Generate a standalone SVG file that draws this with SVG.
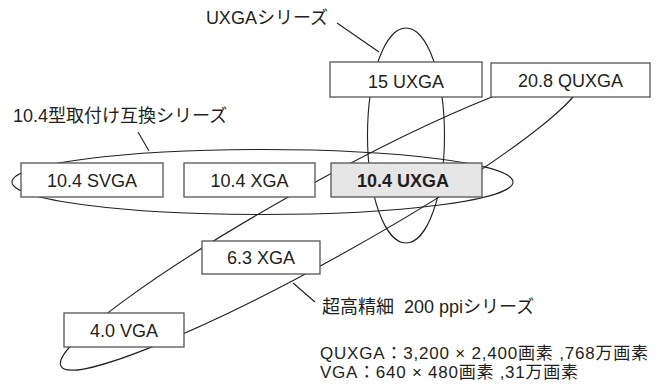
<svg xmlns="http://www.w3.org/2000/svg" width="666" height="391" viewBox="0 0 666 391">
<style>
.ln{fill:none;stroke:#231f20;stroke-width:1.1}
.box{fill:#ffffff;stroke:#555555;stroke-width:1.3}
.hl{fill:#e6e6e6}
.t{font-family:"Liberation Sans","Noto Sans CJK JP",Arial,sans-serif;font-size:18px;fill:#231f20;text-anchor:middle}
.b{font-weight:bold}
.lab{font-family:"Liberation Sans","Noto Sans CJK JP",Arial,sans-serif;font-size:18px;fill:#231f20}
.note{font-family:"Liberation Sans","Noto Sans CJK JP",Arial,sans-serif;font-size:17px;fill:#231f20}
</style>
<rect width="666" height="391" fill="#ffffff"/>
<g id="connectors">
<ellipse class="ln" cx="406" cy="135.5" rx="38.5" ry="107.5"/>
<ellipse class="ln" cx="262.5" cy="182" rx="250.5" ry="32.5"/>
<ellipse class="ln" cx="321" cy="222.3" rx="297.2" ry="38" transform="rotate(-28.98 321 222.3)"/>
<line class="ln" x1="337" y1="23" x2="379" y2="52"/>
<line class="ln" x1="138" y1="132" x2="149" y2="151"/>
<line class="ln" x1="293" y1="283" x2="315" y2="302"/>
</g>
<g id="n15uxga"><rect class="box" x="330" y="62" width="152" height="35"/><text class="t" x="406" y="88">15 UXGA</text></g>
<g id="n208quxga"><rect class="box" x="491" y="63" width="159" height="34"/><text class="t" x="570.5" y="87">20.8 QUXGA</text></g>
<g id="n104svga"><rect class="box" x="21" y="163" width="142" height="34"/><text class="t" x="92" y="187">10.4 SVGA</text></g>
<g id="n104xga"><rect class="box" x="184" y="163" width="131" height="34"/><text class="t" x="249.5" y="187">10.4 XGA</text></g>
<g id="n104uxga"><rect class="box hl" x="331" y="163" width="151" height="34"/><text class="t b" x="403" y="187">10.4 UXGA</text></g>
<g id="n63xga"><rect class="box" x="202" y="241" width="118" height="33"/><text class="t" x="261" y="263.5">6.3 XGA</text></g>
<g id="n40vga"><rect class="box" x="64" y="313" width="120" height="34"/><text class="t" x="124" y="337">4.0 VGA</text></g>
<g id="labels">
<text class="lab" x="328" y="24" text-anchor="end">UXGAシリーズ</text>
<text class="lab" x="13" y="122">10.4型取付け互換シリーズ</text>
<text class="lab" x="322" y="313">超高精細<tspan dx="10">200 ppiシリーズ</tspan></text>
<text class="note" x="320" y="359" textLength="328" lengthAdjust="spacing">QUXGA：3,200 × 2,400画素 ,768万画素</text>
<text class="note" x="320" y="378" textLength="258" lengthAdjust="spacing">VGA：640 × 480画素 ,31万画素</text>
</g>
</svg>
